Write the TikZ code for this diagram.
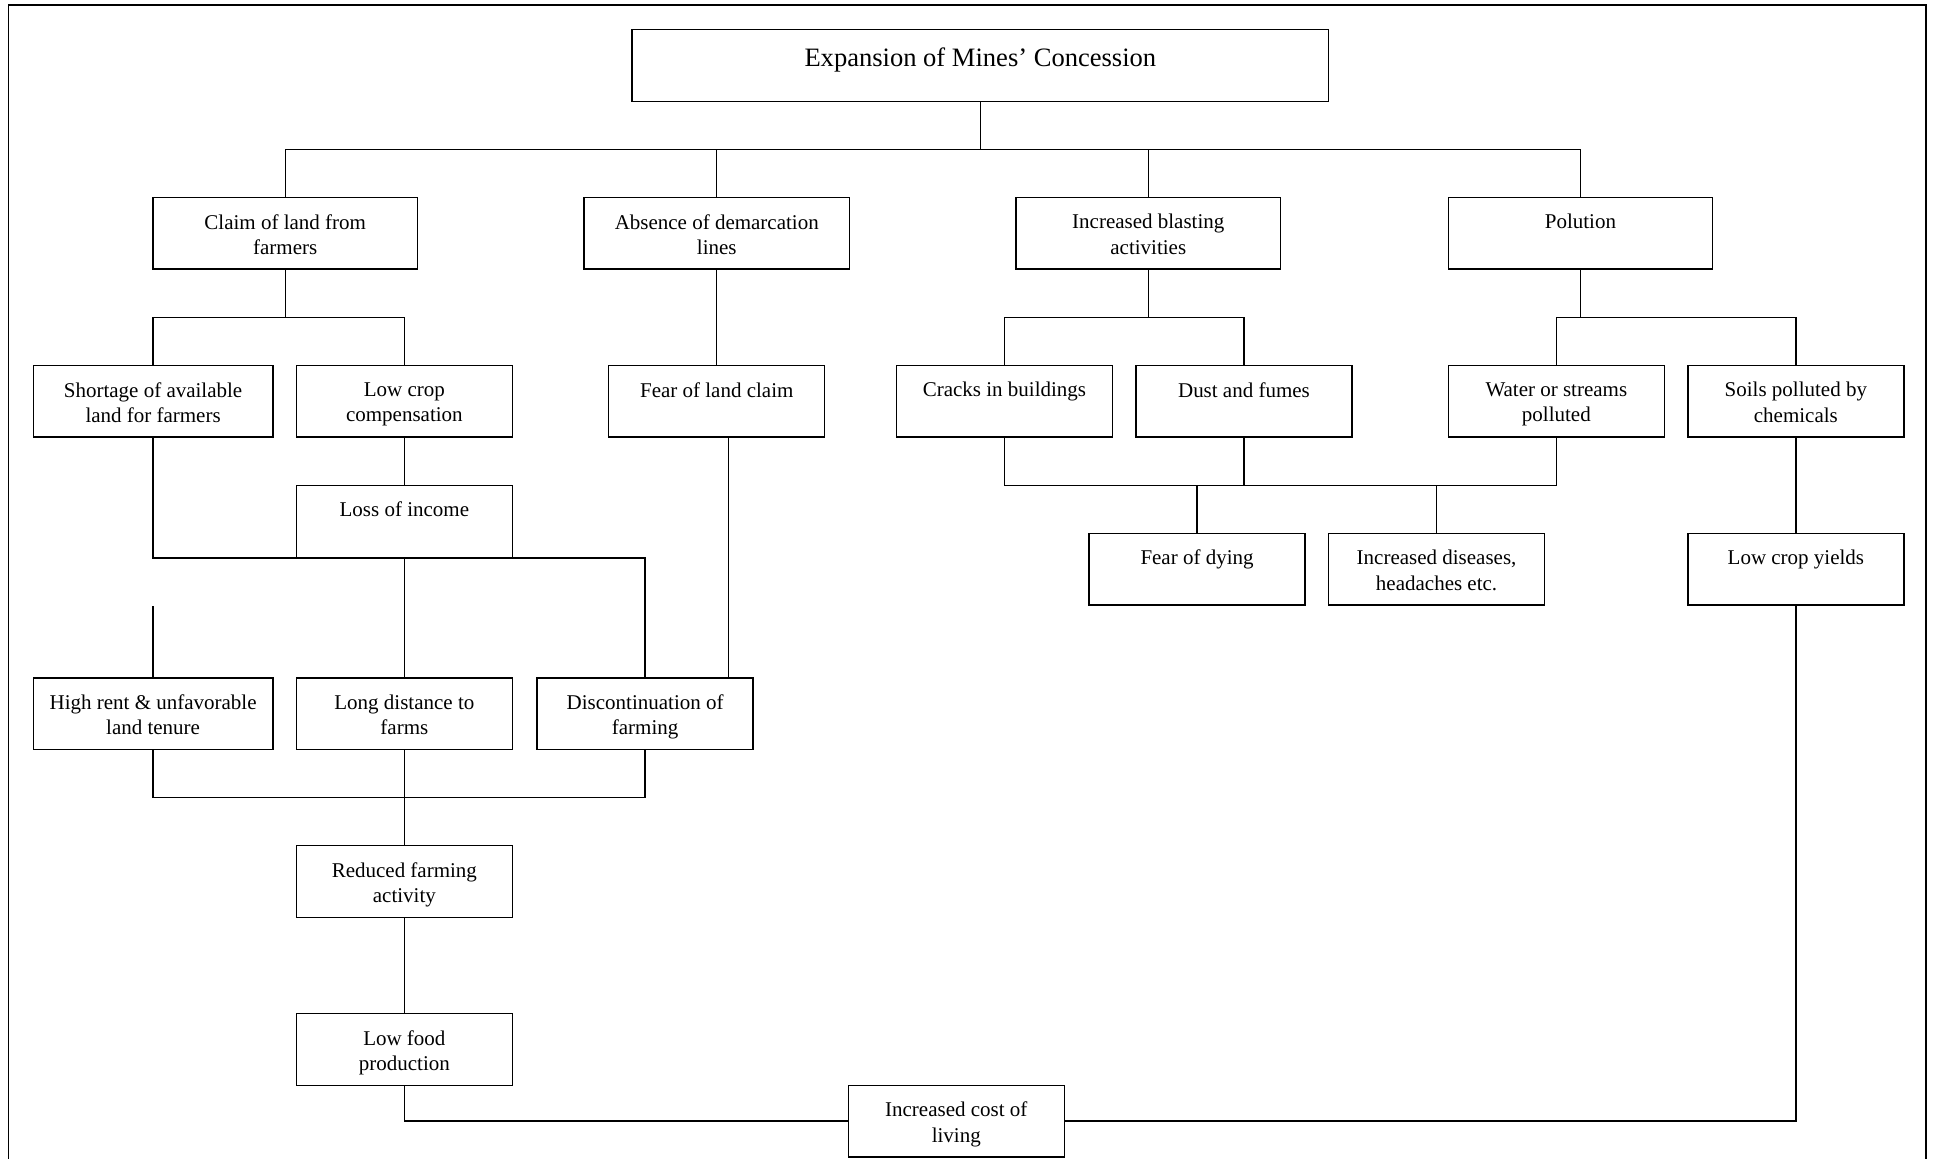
\documentclass[tikz,border=0pt]{standalone}
\usepackage{fontspec}
\setmainfont{Liberation Serif}
\tikzset{
  box/.style={draw, line width=1.1pt, inner sep=0pt, outer sep=0pt},
  txt/.style={anchor=north, align=center, inner sep=0pt, font=\fontsize{17}{20.5}\selectfont},
  ttl/.style={anchor=north, align=center, inner sep=0pt, font=\fontsize{21.5}{26}\selectfont},
  conn/.style={line width=1.1pt},
}
\newcommand\mybox[6]{%
  \node[box, minimum width={#4-#2}, minimum height={#5-#3}] (#1) at ({(#2+#4)/2},{(#3+#5)/2}) {};
  \node[txt] (#1-t) at ([yshift=-13.4pt]#1.north) {#6};
}
\begin{document}
\begin{tikzpicture}[x=1pt,y=-1pt]
\useasboundingbox (0,0) rectangle (1568,938);
\draw[line width=1.3pt] (7,4) rectangle (1560,990);

% title
\node[box, minimum width=564, minimum height=58] (top) at (794,53) {};
\node[ttl] (top-t) at ([yshift=-14.6pt]top.north) {Expansion of Mines’ Concession};

% level 1
\mybox{claim}{124}{160}{338}{218}{Claim of land from\\farmers}
\mybox{absence}{473}{160}{688}{218}{Absence of demarcation\\lines}
\mybox{blast}{823}{160}{1037}{218}{Increased blasting\\activities}
\mybox{pol}{1173}{160}{1387}{218}{Polution}

% level 2
\mybox{short}{27}{296}{221}{354}{Shortage of available\\land for farmers}
\mybox{lowcrop}{240}{296}{415}{354}{Low crop\\compensation}
\mybox{fear}{493}{296}{668}{354}{Fear of land claim}
\mybox{cracks}{726}{296}{901}{354}{Cracks in buildings}
\mybox{dust}{920}{296}{1095}{354}{Dust and fumes}
\mybox{water}{1173}{296}{1348}{354}{Water or streams\\polluted}
\mybox{soils}{1367}{296}{1542}{354}{Soils polluted by\\chemicals}

% level 3
\mybox{loss}{240}{393}{415}{452}{Loss of income}
\mybox{fdying}{882}{432}{1057}{490}{Fear of dying}
\mybox{disease}{1076}{432}{1251}{490}{Increased diseases,\\headaches etc.}
\mybox{lowyield}{1367}{432}{1542}{490}{Low crop yields}

% level 4
\mybox{hrent}{27}{549}{221}{607}{High rent \& unfavorable\\land tenure}
\mybox{longd}{240}{549}{415}{607}{Long distance to\\farms}
\mybox{discont}{435}{549}{610}{607}{Discontinuation of\\farming}

% lower
\mybox{reduced}{240}{685}{415}{743}{Reduced farming\\activity}
\mybox{lowfood}{240}{821}{415}{879}{Low food\\production}
\mybox{cost}{687}{879}{862}{937}{Increased cost of\\living}

% connectors from title
\foreach \n in {claim,absence,blast,pol}
  \draw[conn] (top.south) -- ++(0,39) -| (\n.north);

% claim group
\draw[conn] (claim.south) -- ++(0,39) -| (short.north);
\draw[conn] (claim.south) -- ++(0,39) -| (lowcrop.north);
\draw[conn] (absence.south) -- (fear.north);
\draw[conn] (lowcrop.south) -- (loss.north);
\draw[conn] (short.south) |- (loss.south west);
\draw[conn] (loss.south east) -| (discont.north);
\draw[conn] (loss.south) -- (longd.north);
\draw[conn] ([xshift=9.5pt]fear.south) -- ([xshift=9.5pt]fear.south |- discont.north);
\coordinate (stub) at (124,491);
\draw[conn] (stub) -- (hrent.north);
\draw[conn] (hrent.south) -- ++(0,39) -| (discont.south);
\draw[conn] (longd.south) -- (reduced.north);
\draw[conn] (reduced.south) -- (lowfood.north);
\draw[conn] (lowfood.south) |- (cost.west);
\draw[conn] (lowyield.south) |- (cost.east);

% blasting / pollution group
\draw[conn] (blast.south) -- ++(0,39) -| (cracks.north);
\draw[conn] (blast.south) -- ++(0,39) -| (dust.north);
\draw[conn] (pol.south) -- ++(0,39) -| (water.north);
\draw[conn] (pol.south) -- ++(0,39) -| (soils.north);
\draw[conn] (cracks.south) -- ++(0,39) -| (water.south);
\draw[conn] (dust.south) -- ++(0,39);
\draw[conn] (fdying.north) -- ++(0,-39);
\draw[conn] (disease.north) -- ++(0,-39);
\draw[conn] (soils.south) -- (lowyield.north);
\end{tikzpicture}
\end{document}
